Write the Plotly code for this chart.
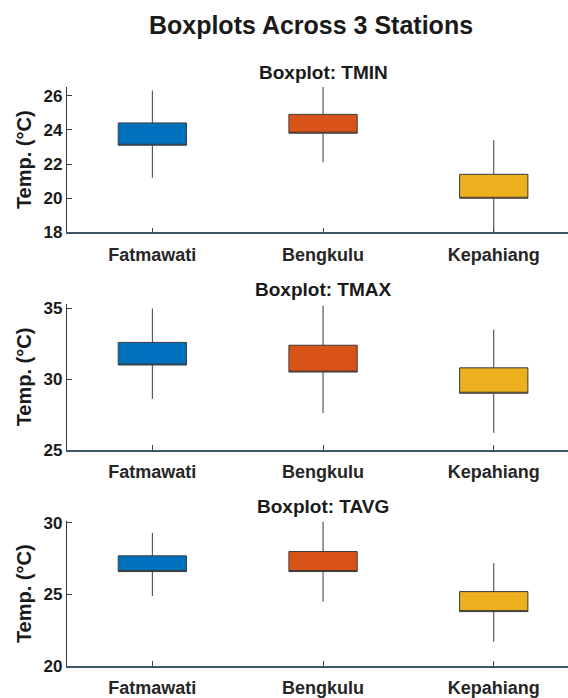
import plotly.graph_objects as go

stations = ["Fatmawati", "Bengkulu", "Kepahiang"]
colors = ["#0072BD", "#D95319", "#EDB120"]

# TMIN
tmin_low = [21.2, 22.1, 17.5]
tmin_q1 = [23.1, 23.8, 20.0]
tmin_q3 = [24.4, 24.9, 21.4]
tmin_high = [26.3, 26.5, 23.4]

# TMAX
tmax_low = [28.6, 27.6, 26.2]
tmax_q1 = [31.0, 30.5, 29.0]
tmax_q3 = [32.6, 32.4, 30.8]
tmax_high = [35.0, 35.2, 33.5]

# TAVG
tavg_low = [24.9, 24.5, 21.7]
tavg_q1 = [26.6, 26.6, 23.8]
tavg_q3 = [27.7, 28.0, 25.2]
tavg_high = [29.3, 30.1, 27.2]

panels = [
    ("TMIN", tmin_low, tmin_q1, tmin_q3, tmin_high, [18, 26.5], [18, 20, 22, 24, 26]),
    ("TMAX", tmax_low, tmax_q1, tmax_q3, tmax_high, [25, 35.3], [25, 30, 35]),
    ("TAVG", tavg_low, tavg_q1, tavg_q3, tavg_high, [20, 30.1], [20, 25, 30]),
]

W, H = 568, 698
ml, mr, mt, mb = 67, 0, 87, 30
pw, ph = W - ml - mr, H - mt - mb
# pixel extents of each panel (top, bottom) and subplot-title centre
pix = [(87, 233), (305, 451), (523, 668)]
title_y = [72, 290, 508]

fig = go.Figure()
font_family = "Liberation Sans, Arial, sans-serif"
txt = "#1a1a1a"

for i, (name, lo, q1, q3, hi, yr, tv) in enumerate(panels):
    ax = "" if i == 0 else str(i + 1)
    for j, st in enumerate(stations):
        fig.add_trace(go.Box(
            x=[j], q1=[q1[j]], median=[q1[j]], q3=[q3[j]],
            lowerfence=[lo[j]], upperfence=[hi[j]],
            width=0.4, whiskerwidth=0,
            fillcolor=colors[j],
            line=dict(color="#3a3a3a", width=1),
            xaxis="x" + ax, yaxis="y" + ax,
            showlegend=False, hoverinfo="skip",
        ))
    top, bot = pix[i]
    dom = [(H - mb - bot) / ph, (H - mb - top) / ph]
    fig.layout["xaxis" + ax] = dict(
        domain=[0, 1], anchor="y" + ax, range=[-0.5, 2.435],
        tickmode="array", tickvals=[0, 1, 2], ticktext=stations,
        ticks="inside", ticklen=5, tickcolor="#444", showgrid=False, zeroline=False,
        showline=True, linecolor="#3d5666", linewidth=1.5, ticklabelstandoff=5,
        tickfont=dict(size=18, color="#262626", family=font_family, weight="bold"),
    )
    fig.layout["yaxis" + ax] = dict(
        domain=dom, anchor="x" + ax, range=yr,
        tickmode="array", tickvals=tv, ticks="inside", ticklen=5, tickcolor="#444",
        showgrid=False, zeroline=False, showline=True, linecolor="#333", linewidth=1.2,
        tickfont=dict(size=17, color=txt, family=font_family, weight="bold"),
        title=dict(text="<b>Temp. (°C)</b>", font=dict(size=20, color=txt, family=font_family), standoff=6),
    )
    fig.add_annotation(
        text="<b>Boxplot: " + name + "</b>", xref="paper", yref="paper",
        x=(323 - ml) / pw, y=(H - mb - title_y[i]) / ph,
        showarrow=False, font=dict(size=19, color=txt, family=font_family),
        xanchor="center", yanchor="middle",
    )

fig.update_layout(
    width=W, height=H,
    margin=dict(l=ml, r=mr, t=mt, b=mb),
    paper_bgcolor="white", plot_bgcolor="white",
    title=dict(text="<b>Boxplots Across 3 Stations</b>", x=311 / W, xanchor="center",
               y=1 - 25 / H, yanchor="middle",
               font=dict(size=25, color=txt, family=font_family)),
)

fig.write_html("out.html", config={"displayModeBar": False},
               post_script="document.body.style.margin='0px';")
